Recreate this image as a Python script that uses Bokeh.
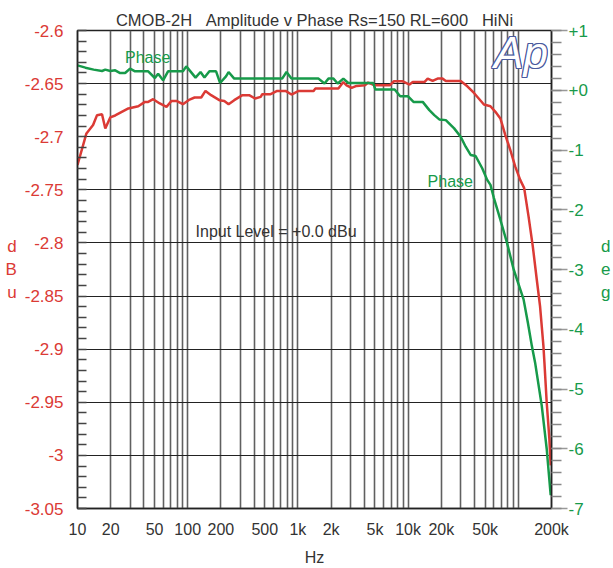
from bokeh.plotting import figure
from bokeh.models import Range1d, LinearAxis, FixedTicker, Label
from bokeh.embed import file_html
from bokeh.resources import INLINE

# ---- data ----
amp_freq = [10, 12.05, 13.85, 15.04, 16.69, 17.87, 19.82, 21.98, 28.95, 35.6, 40.9, 43.8, 48.6,
            55.8, 64.2, 71.2, 79.0, 90.5, 104, 115.4, 132.6, 145, 163, 193.7, 214.8, 234.9,
            264.3, 313.9, 360.8, 408.6, 459.6, 475, 565.5, 648.6, 771.9, 874, 1017, 1388,
            1437, 2329, 2584, 2766, 3069, 3403, 4053, 4338, 4985, 6801, 7435, 8961, 10294,
            11024, 14048, 15045, 16690, 18510, 20530, 21980, 29990, 34460, 39590, 48720,
            55870, 61960, 68720, 76230, 84560, 93790, 104000, 113000, 123800, 135300,
            147000, 157400, 168900, 172500, 180900, 191300, 196600]
amp_dbu = [-2.7266, -2.6969, -2.689, -2.6797, -2.6788, -2.6922, -2.6818, -2.68, -2.6734,
           -2.6713, -2.6672, -2.6672, -2.6647, -2.6687, -2.6719, -2.6663, -2.6663, -2.6694,
           -2.665, -2.6631, -2.6631, -2.6569, -2.6609, -2.6656, -2.6663, -2.6694, -2.6656,
           -2.6609, -2.6609, -2.664, -2.6625, -2.66, -2.66, -2.6569, -2.6569, -2.6603,
           -2.6569, -2.6569, -2.6547, -2.6547, -2.6485, -2.6516, -2.6541, -2.6522, -2.6516,
           -2.649, -2.6516, -2.6516, -2.6478, -2.6478, -2.6509, -2.6485, -2.6485, -2.6453,
           -2.6475, -2.6453, -2.6453, -2.6475, -2.6475, -2.6525, -2.6588, -2.6697, -2.6713,
           -2.6766, -2.6828, -2.6984, -2.7125, -2.7282, -2.7406, -2.7484, -2.775, -2.8032,
           -2.8344, -2.8594, -2.8969, -2.9125, -2.95, -2.9844, -3.0094]

phase_freq = [10, 11.8, 14.02, 16.69, 17.87, 19.82, 21.98, 24.38, 27.04, 29.99, 33.27, 43.8,
              50.36, 53.9, 59.8, 66.3, 90.5, 97.1, 117.8, 130.7, 141.9, 157.4, 180.9, 196.6,
              222.6, 234.9, 264.3, 719.4, 788, 874, 1539, 1743, 1893, 2100, 2296, 2584,
              2866, 4813, 5047, 7546, 8472, 9938, 11185, 13563, 15580, 17283, 19170, 21980,
              26160, 29990, 33280, 36910, 40940, 47030, 52170, 55870, 59940, 68720, 78960,
              90730, 111600, 122000, 132600, 141900, 163100, 180900, 196600]
phase_deg = [0.417, 0.378, 0.345, 0.322, 0.345, 0.322, 0.333, 0.288, 0.288, 0.362, 0.317,
             0.317, 0.205, 0.278, 0.167, 0.317, 0.317, 0.4, 0.212, 0.305, 0.212, 0.317,
             0.317, 0.122, 0.233, 0.305, 0.195, 0.195, 0.305, 0.195, 0.195, 0.112, 0.195,
             0.195, 0.112, 0.195, 0.122, 0.122, 0.012, 0.012, -0.1, -0.1, -0.195, -0.195,
             -0.333, -0.417, -0.488, -0.5, -0.638, -0.778, -0.945, -1.083, -1.1, -1.305,
             -1.5, -1.583, -1.8, -2.167, -2.555, -3.0, -3.5, -3.888, -4.278, -4.555,
             -5.278, -6.0, -6.778]

x_tick_values = [10, 20, 50, 100, 200, 500, 1000, 2000, 5000, 10000, 20000, 50000, 200000]
x_tick_labels = ["10", "20", "50", "100", "200", "500", "1k", "2k", "5k", "10k", "20k",
                 "50k", "200k"]
grid_decades = [10, 100, 1000, 10000, 100000]
grid_steps = [1, 2, 3, 4, 5, 6, 7, 8, 9]
dbu_ticks = [-3.05, -3.0, -2.95, -2.9, -2.85, -2.8, -2.75, -2.7, -2.65, -2.6]
dbu_labels = ["-3.05", "-3", "-2.95", "-2.9", "-2.85", "-2.8", "-2.75", "-2.7", "-2.65", "-2.6"]
deg_ticks = [-7, -6, -5, -4, -3, -2, -1, 0, 1]
deg_labels = ["-7", "-6", "-5", "-4", "-3", "-2", "-1", "+0", "+1"]

NB = "\u00a0"
title_text = "CMOB-2H" + NB * 3 + "Amplitude v Phase Rs=150 RL=600" + NB * 3 + "HiNi"

RED = "#db3a35"
GREEN = "#179a4a"
FONT = "Liberation Sans"

p = figure(width=613, height=568, x_axis_type="log",
           x_range=Range1d(10, 200000), y_range=Range1d(-3.05, -2.6),
           output_backend="svg", toolbar_location=None,
           min_border_left=77, min_border_right=58, min_border_top=30, min_border_bottom=58)
p.extra_y_ranges = {"deg": Range1d(-7, 1)}
p.outline_line_color = "#222222"
p.outline_line_width = 1.5
p.background_fill_color = "white"

p.title.text = title_text
p.title.align = "center"
p.title.text_font = FONT
p.title.text_font_size = "16.5px"
p.title.text_font_style = "normal"
p.title.text_color = "#333333"
p.title.standoff = 3

# grids
grid_ticks = [d * s for d in grid_decades for s in grid_steps if d * s <= 200000]
p.xgrid.ticker = FixedTicker(ticks=grid_ticks)
p.xgrid.grid_line_color = "#606060"
p.xgrid.grid_line_width = 1.6
p.ygrid.ticker = FixedTicker(ticks=dbu_ticks)
p.ygrid.grid_line_color = "#222222"
p.ygrid.grid_line_width = 1.2

# bottom axis
xa = p.xaxis[0]
xa.ticker = FixedTicker(ticks=x_tick_values)
xa.major_label_overrides = {v: l for v, l in zip(x_tick_values, x_tick_labels)}
xa.major_tick_out = 0
xa.major_tick_in = 0
xa.minor_tick_out = 0
xa.minor_tick_in = 0
xa.axis_line_color = "#222222"
xa.axis_line_width = 1.5
xa.major_label_text_font = FONT
xa.major_label_text_font_size = "16px"
xa.major_label_text_color = "#333333"
xa.major_label_standoff = 12
xa.axis_label = "Hz"
xa.axis_label_text_font = FONT
xa.axis_label_text_font_size = "16px"
xa.axis_label_text_font_style = "normal"
xa.axis_label_text_color = "#333333"
xa.axis_label_standoff = 8

# left axis
ya = p.yaxis[0]
ya.ticker = FixedTicker(ticks=dbu_ticks,
                        minor_ticks=[round(-3.05 + 0.01 * i, 2) for i in range(46)])
ya.major_label_overrides = {v: l for v, l in zip(dbu_ticks, dbu_labels)}
ya.major_tick_out = 0
ya.major_tick_in = 0
ya.minor_tick_in = 9
ya.minor_tick_out = 0
ya.minor_tick_line_color = "#444444"
ya.minor_tick_line_width = 1.5
ya.axis_line_color = "#222222"
ya.axis_line_width = 1.5
ya.major_label_text_font = FONT
ya.major_label_text_font_size = "17px"
ya.major_label_text_color = RED
ya.major_label_standoff = 14
ya.axis_label = "d\nB\nu"
ya.axis_label_orientation = "horizontal"
ya.axis_label_text_font = FONT
ya.axis_label_text_font_size = "17px"
ya.axis_label_text_font_style = "normal"
ya.axis_label_text_color = RED
ya.axis_label_standoff = 5

# right axis
ra = LinearAxis(y_range_name="deg")
ra.ticker = FixedTicker(ticks=deg_ticks,
                        minor_ticks=[round(-7 + 0.2 * i, 1) for i in range(41)])
ra.major_label_overrides = {v: l for v, l in zip(deg_ticks, deg_labels)}
ra.major_tick_out = 16
ra.major_tick_in = 0
ra.major_tick_line_color = "#999999"
ra.major_tick_line_width = 1.5
ra.minor_tick_out = 10
ra.minor_tick_in = 0
ra.minor_tick_line_color = "#888888"
ra.minor_tick_line_width = 1.5
ra.axis_line_color = "#222222"
ra.axis_line_width = 1.5
ra.major_label_text_font = FONT
ra.major_label_text_font_size = "17px"
ra.major_label_text_color = GREEN
ra.major_label_standoff = 1
ra.axis_label = "d\ne\ng"
ra.axis_label_orientation = "horizontal"
ra.axis_label_text_font = FONT
ra.axis_label_text_font_size = "17px"
ra.axis_label_text_font_style = "normal"
ra.axis_label_text_color = GREEN
ra.axis_label_standoff = 10
p.add_layout(ra, "right")

# curves
p.line(amp_freq, amp_dbu, line_color=RED, line_width=2.5)
p.line(phase_freq, phase_deg, line_color=GREEN, line_width=2.5, y_range_name="deg")

def lab(x, y, text, color, size, align="left", baseline="middle", style="normal",
        xo=0, yo=0):
    p.add_layout(Label(x=x, y=y, text=text, text_color=color, text_font=FONT,
                       text_font_size=size, text_align=align, text_baseline=baseline,
                       text_font_style=style, x_offset=xo, y_offset=yo))

lab(27.0, -2.6253, "Phase", GREEN, "16px")
lab(15030, -2.7425, "Phase", GREEN, "16px")
lab(117.8, -2.7894, "Input Level = +0.0 dBu", "#333333", "16px")

# "Ap" logo, outlined
for dx, dy in [(-1, 0), (1, 0), (0, -1), (0, 1), (-1, -1), (1, 1), (-1, 1), (1, -1)]:
    lab(60300, -2.6206, "Ap", "#4a5a9e", "44px", style="italic", xo=dx, yo=dy)
lab(60300, -2.6206, "Ap", "white", "44px", style="italic")

open("out.html", "w").write(file_html(p, INLINE))
